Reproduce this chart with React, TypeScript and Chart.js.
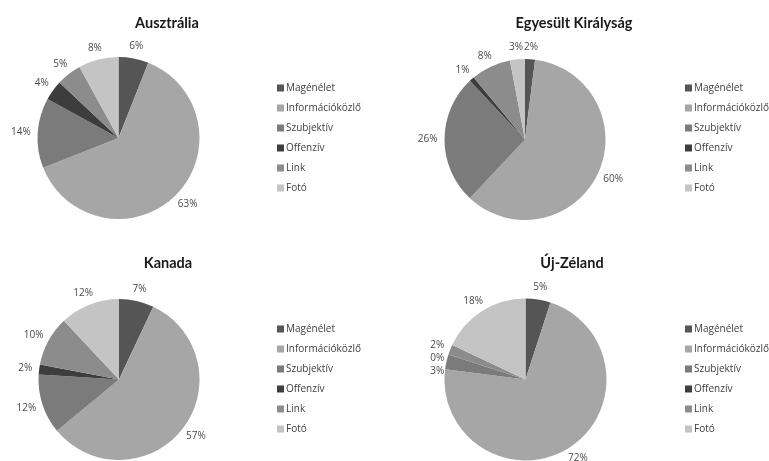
import React, { useEffect, useRef } from "react";
import { Chart, registerables } from "chart.js";

Chart.register(...registerables);

// ---- data ----
const categories = ["Magénélet", "Információközlő", "Szubjektív", "Offenzív", "Link", "Fotó"];
const countries = ["Ausztrália", "Egyesült Királyság", "Kanada", "Új-Zéland"];
const ausztralia = [6, 63, 14, 4, 5, 8];
const egyesultKiralysag = [2, 60, 26, 1, 8, 3];
const kanada = [7, 57, 12, 2, 10, 12];
const ujZeland = [5, 72, 3, 0, 2, 18];
const seriesValues = [ausztralia, egyesultKiralysag, kanada, ujZeland];

// ---- styles / layout ----
const sliceColors = ["#555555", "#a6a6a6", "#7b7b7b", "#3d3d3d", "#8c8c8c", "#c4c4c4"];
const FONT = "'Open Sans', Lato, sans-serif";
const TITLE_FONT = "Lato, 'Open Sans', sans-serif";

const panels = [
  { left: 0, top: 0, w: 384, h: 230, cx: 118.5, cy: 138, r: 81, tx: 167, ty: 23, lx: 277, ly: 88 },
  { left: 384, top: 0, w: 385, h: 230, cx: 141, cy: 139.5, r: 80.5, tx: 190, ty: 23, lx: 301, ly: 88 },
  { left: 0, top: 230, w: 384, h: 231, cx: 119, cy: 149.5, r: 80.5, tx: 168, ty: 33, lx: 277, ly: 99 },
  { left: 384, top: 230, w: 385, h: 231, cx: 141.5, cy: 149.5, r: 81, tx: 188, ty: 33, lx: 301, ly: 99 },
];

const decorPlugin = {
  id: "decor",
  afterDatasetsDraw(chart: any, _args: any, opts: any) {
    const ctx = chart.ctx as CanvasRenderingContext2D;
    const meta = chart.getDatasetMeta(0);
    const values = chart.data.datasets[0].data as number[];
    ctx.save();
    // percentage labels
    ctx.font = `10px ${FONT}`;
    ctx.fillStyle = "#4a4a4a";
    ctx.textAlign = "center";
    ctx.textBaseline = "middle";
    const gap = 7;
    const lh = 10;
    const labels: any[] = [];
    meta.data.forEach((arc: any, i: number) => {
      const p = arc.getProps(["startAngle", "endAngle", "outerRadius", "x", "y"], true);
      const mid = (p.startAngle + p.endAngle) / 2;
      const dx = Math.cos(mid);
      const dy = Math.sin(mid);
      const text = `${values[i]}%`;
      const w = ctx.measureText(text).width;
      const ax = p.x + dx * (p.outerRadius + gap);
      const ay = p.y + dy * (p.outerRadius + gap);
      labels.push({ text, w, x: ax + (dx * w) / 2, y: ay + (dy * lh) / 2, side: dx < 0 ? "L" : "R" });
    });
    ["L", "R"].forEach((side) => {
      const arr = labels.filter((l) => l.side === side).sort((a, b) => a.y - b.y);
      for (let k = 1; k < arr.length; k++) {
        const a = arr[k - 1];
        const b = arr[k];
        const minSep = 13;
        if (b.y - a.y < minSep && Math.abs(b.x - a.x) < (a.w + b.w) / 2) {
          b.y = a.y + minSep;
          b.x = a.x;
        }
      }
    });
    labels.forEach((l) => ctx.fillText(l.text, l.x, l.y));

    // title
    ctx.font = `bold 14.5px ${TITLE_FONT}`;
    ctx.fillStyle = "#1a1a1a";
    ctx.fillText(opts.title, opts.tx, opts.ty);

    // legend
    ctx.font = `10px ${FONT}`;
    ctx.textAlign = "left";
    categories.forEach((c, i) => {
      const y = opts.ly + i * 20;
      ctx.fillStyle = sliceColors[i];
      ctx.fillRect(opts.lx, y - 3.5, 7, 7);
      ctx.fillStyle = "#404040";
      ctx.fillText(c, opts.lx + 9, y + 0.5);
    });
    ctx.restore();
  },
};

function PiePanel({ idx }: { idx: number }) {
  const ref = useRef<HTMLCanvasElement | null>(null);
  const p = panels[idx];
  useEffect(() => {
    if (!ref.current) return;
    const chart = new Chart(ref.current, {
      type: "pie",
      data: {
        labels: categories,
        datasets: [
          {
            data: seriesValues[idx],
            backgroundColor: sliceColors,
            borderWidth: 0,
          },
        ],
      },
      options: {
        animation: false,
        responsive: false,
        events: [],
        layout: {
          padding: {
            left: p.cx - p.r,
            right: p.w - p.cx - p.r,
            top: p.cy - p.r,
            bottom: p.h - p.cy - p.r,
          },
        },
        plugins: {
          legend: { display: false },
          tooltip: { enabled: false },
          title: { display: false },
          decor: { title: countries[idx], tx: p.tx, ty: p.ty, lx: p.lx, ly: p.ly },
        } as any,
      },
      plugins: [decorPlugin as any],
    });
    return () => chart.destroy();
  }, [idx]);
  return (
    <canvas
      ref={ref}
      width={p.w}
      height={p.h}
      style={{ position: "absolute", left: p.left, top: p.top, width: p.w, height: p.h }}
    />
  );
}

export default function App() {
  return (
    <div style={{ position: "absolute", left: 0, top: 0, width: 769, height: 461, background: "#fff", overflow: "hidden" }}>
      {panels.map((_, i) => (
        <PiePanel key={i} idx={i} />
      ))}
    </div>
  );
}
